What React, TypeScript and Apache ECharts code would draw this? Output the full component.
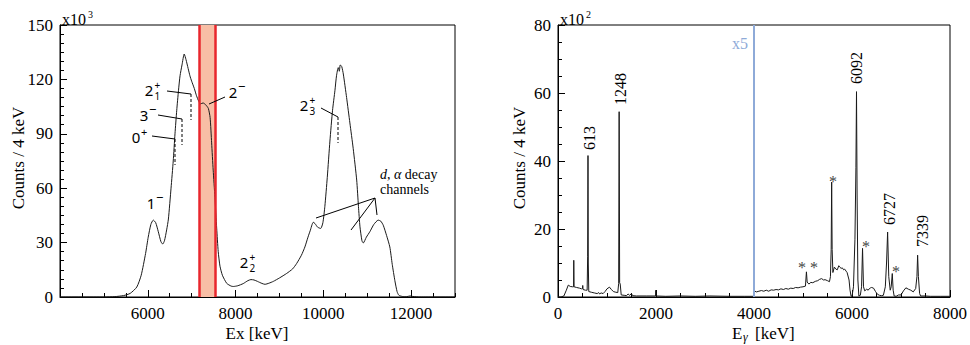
import React, { useEffect, useRef } from "react";
import * as echarts from "echarts";

// ---------- Left panel: excitation-energy spectrum (counts x10^3 per 4 keV) ----------
const exKeV = [
  4000, 5000, 5250, 5450, 5600, 5750, 5850, 5950, 6010, 6070, 6125, 6180, 6240, 6300, 6340, 6380,
  6430, 6470, 6530, 6580, 6620, 6660, 6700, 6735, 6780, 6830, 6870, 6920, 6960, 7000, 7060, 7110,
  7160, 7200, 7260, 7320, 7380, 7420, 7455, 7490, 7530, 7570, 7605, 7645, 7700, 7800, 7900, 7950,
  8050, 8175, 8280, 8350, 8420, 8500, 8600, 8670, 8760, 8860, 9000, 9165, 9300, 9390, 9500, 9580,
  9650, 9700, 9770, 9810, 9870, 9940, 9990, 10035, 10090, 10150, 10210, 10265, 10300, 10340, 10365,
  10385, 10420, 10455, 10530, 10605, 10680, 10760, 10800, 10835, 10880, 10910, 10980, 11060, 11150,
  11250, 11310, 11365, 11440, 11515, 11570, 11630, 11680, 11720, 11800, 11900, 11980, 12040, 12200,
  13000,
];
const exCounts = [
  0, 0, 0.2, 0.8, 2, 5.5, 12, 24, 33, 40, 42.4, 41, 36, 30.5, 29.2, 31,
  37, 43, 60, 75, 90, 103, 114, 122, 128, 134, 131, 126, 122, 119, 115, 111,
  108, 106.5, 107, 106, 104, 99, 85, 70, 55, 38, 25, 17, 12, 7.5, 6, 5.8,
  6.2, 7.4, 9, 9.6, 9.4, 8.6, 7.5, 7, 7.6, 8.6, 10.5, 13, 15.5, 18.4, 23, 27.6,
  33, 36.5, 41.2, 40.5, 38.5, 37.8, 41, 50, 66, 86, 103, 114, 122, 126.5, 124.5,
  128, 127, 123, 110, 96, 82, 64.5, 50, 38.7, 31, 29.8, 33, 36, 40,
  42.4, 41.8, 39.6, 34, 27.6, 18, 9, 3, 1, 0.3, 0.2, 0.6, 0.3, 0,
  0,
];
const exBand = [7170, 7530];

// ---------- Right panel: gamma-ray spectrum (counts x10^2 per 4 keV; x5 above 4000 keV) ----------
const egKeV = [
  0, 60, 120, 170, 210, 250, 300, 318, 322, 328, 380, 440, 480, 500, 505, 512, 560, 595, 605, 612,
  618, 628, 680, 740, 800, 830, 850, 880, 920, 960, 1000, 1050, 1090, 1130, 1180, 1220, 1238, 1248,
  1258, 1270, 1290, 1350, 1400, 1430, 1460, 1500, 1520, 1600, 1800, 1990, 1996, 2002, 2200, 2500,
  2800, 3100, 3500, 3800, 3998,
  4002, 4050, 4100, 4150, 4200, 4250, 4300, 4350, 4400, 4450, 4500, 4550, 4600, 4650, 4700, 4750,
  4800, 4850, 4900, 4950, 5000, 5050, 5070, 5085, 5120, 5160, 5200, 5250, 5300, 5340, 5380, 5420,
  5450, 5500, 5540, 5560, 5575, 5585, 5595, 5610, 5640, 5670, 5700, 5730, 5750, 5780, 5800, 5830,
  5850, 5880, 5900, 5940, 5960, 5980, 6000, 6030, 6060, 6080, 6092, 6104, 6120, 6140, 6170, 6195,
  6215, 6235, 6260, 6300, 6330, 6350, 6380, 6400, 6440, 6480, 6520, 6560, 6600, 6640, 6680, 6705,
  6727, 6750, 6780, 6800, 6822, 6840, 6860, 6900, 6950, 7000, 7050, 7100, 7150, 7200, 7250, 7300,
  7325, 7339, 7355, 7380, 7400, 7500, 7600, 7800, 8000,
];
const egCounts = [
  0, 0, 0.3, 2, 3.5, 3.1, 3.0, 3.0, 10.8, 3.0, 2.8, 2.6, 2.4, 2.5, 3.4, 2.2, 2.0, 2.0, 12, 41.6,
  10, 1.6, 1.4, 1.2, 1.0, 1.3, 0.9, 1.2, 1.0, 1.6, 2.4, 2.9, 2.2, 1.6, 1.4, 1.3, 4, 54.5,
  4.2, 3.8, 0.6, 0.5, 0.4, 0.9, 0.5, 1.0, 0.4, 0.3, 0.3, 0.3, 2, 0.3, 0.2, 0.3,
  0.2, 0.3, 0.2, 0.2, 0.2,
  1.8, 1.5, 1.7, 1.9, 1.7, 2.0, 1.7, 2.1, 2.0, 2.2, 2.1, 2.4, 2.2, 2.5, 2.3, 2.6,
  2.5, 2.8, 2.7, 2.9, 3.0, 3.2, 7.4, 4.4, 3.8, 4.3, 4.2, 4.6, 4.8, 5.2, 5.4, 5.0,
  5.1, 4.8, 4.5, 6, 14, 33.8, 14, 7.2, 8.8, 8.2, 8.0, 9.2, 8.8, 8.4, 8.6, 8.0,
  8.2, 7.6, 7.2, 5.0, 2.0, 0.3, 0.2, 3, 17, 38, 60.4, 30, 5, 0.3, 0.5, 3,
  14.3, 3, 1.8, 2.3, 2.0, 2.4, 2.7, 2.8, 2.6, 1.6, 0.8, 0.5, 0.4, 0.5, 3, 10,
  19.1, 6, 2, 3, 6.9, 2, 0.3, 0.2, 0.6, 0.6, 1.8, 2.7, 2.3, 2.0, 1.5, 2.5,
  6, 12.3, 6, 1.0, 0.3, 0.3, 0.2, 0.2, 0.2,
];
const egMarker = 4000;

const exTickLabels = ["6000", "8000", "10000", "12000"];
const egPeakLabels = ["613", "1248", "6092", "6727", "7339"];

const SERIF = "Liberation Serif";
const SANS = "Noto Sans";

function txt(x: number, y: number, text: string, o: any = {}) {
  return {
    type: "text",
    x,
    y,
    rotation: o.rotation || 0,
    z: 50,
    style: {
      text,
      fontSize: o.fontSize || 17,
      fontFamily: o.fontFamily || SERIF,
      fontStyle: o.fontStyle || "normal",
      fill: o.fill || "#000",
      align: o.align || "center",
      verticalAlign: o.verticalAlign || "middle",
      lineHeight: o.lineHeight,
      rich: o.rich,
    },
  };
}
function ln(x1: number, y1: number, x2: number, y2: number, dashed = false) {
  return {
    type: "line",
    z: 50,
    shape: { x1, y1, x2, y2 },
    style: { stroke: "#000", lineWidth: 1, lineDash: dashed ? [3, 2] : null },
  };
}
// state label: base digit, superscript, optional subscript (stacked in one text)
function stateLabel(x: number, y: number, base: string, sup: string, sub?: string) {
  const els: any[] = [txt(x, y, base, { fontSize: 15, fontFamily: SANS })];
  if (sub) {
    els.push(txt(x + 5.5, y, sup + "\n" + sub, { fontSize: 10, fontFamily: SANS, align: "left", lineHeight: 11 }));
  } else {
    const supSize = sup === "−" ? 13 : 11;
    els.push(txt(x + 5, y - 6, sup, { fontSize: supSize, fontFamily: SANS, align: "left" }));
  }
  return els;
}

export default function App() {
  const ref = useRef<HTMLDivElement>(null);
  useEffect(() => {
    if (!ref.current) return;
    const chart = echarts.init(ref.current, null, { renderer: "svg" });
    const exData = exKeV.map((e, i) => [e, exCounts[i]]);
    const egData = egKeV.map((e, i) => [e, egCounts[i]]);
    const axisLabel = { fontFamily: SERIF, fontSize: 17, color: "#000" };
    const axisLine = { show: true, lineStyle: { color: "#000", width: 1 } };

    const graphic: any[] = [
      // axis names
      txt(18, 158, "Counts / 4 keV", { rotation: Math.PI / 2 }),
      txt(519, 158, "Counts / 4 keV", { rotation: Math.PI / 2 }),
      txt(257, 333, "Ex [keV]"),
      txt(732, 333, "E", { align: "left" }),
      txt(743, 337, "γ", { align: "left", fontSize: 12, fontStyle: "italic" }),
      txt(755, 333, "[keV]", { align: "left" }),
      // exponent labels
      txt(62, 19, "x10", { align: "left", fontSize: 16 }),
      txt(88, 14, "3", { align: "left", fontSize: 10 }),
      txt(560, 19, "x10", { align: "left", fontSize: 16 }),
      txt(586, 14, "2", { align: "left", fontSize: 10 }),
      // left annotations
      ...stateLabel(149, 90, "2", "+", "1"),
      ln(167, 91, 191, 94),
      ln(191, 94, 191, 120, true),
      ...stateLabel(144, 115, "3", "−"),
      ln(158, 115, 182, 119),
      ln(182, 119, 182, 145, true),
      ...stateLabel(136, 137, "0", "+"),
      ln(152, 136, 175, 139),
      ln(175, 139, 175, 165, true),
      ...stateLabel(233, 92, "2", "−"),
      ln(209, 104, 225, 97),
      ...stateLabel(151, 203, "1", "−"),
      ...stateLabel(244, 262, "2", "+", "2"),
      ...stateLabel(304, 105, "2", "+", "3"),
      ln(321, 108, 338, 117),
      ln(338, 117, 338, 143, true),
      txt(380, 174, "{i|d}, {i|α} decay", {
        align: "left",
        fontSize: 14,
        rich: { i: { fontStyle: "italic", fontSize: 14, fontFamily: SERIF } },
      }),
      txt(380, 189, "channels", { align: "left", fontSize: 14 }),
      ln(316, 218, 375, 198),
      ln(351, 230, 375, 198),
      ln(375, 198, 377, 215),
      // right annotations
      txt(589, 138, egPeakLabels[0], { rotation: Math.PI / 2, fontSize: 16 }),
      txt(620, 89, egPeakLabels[1], { rotation: Math.PI / 2, fontSize: 16 }),
      txt(856, 68, egPeakLabels[2], { rotation: Math.PI / 2, fontSize: 16 }),
      txt(889, 209, egPeakLabels[3], { rotation: Math.PI / 2, fontSize: 16 }),
      txt(922, 231, egPeakLabels[4], { rotation: Math.PI / 2, fontSize: 16 }),
      txt(740, 43, "x5", { fontSize: 16, fill: "#8eaad8" }),
      txt(833, 181, "*", { fontSize: 16, fill: "#444" }),
      txt(866, 246, "*", { fontSize: 16, fill: "#444" }),
      txt(896, 271, "*", { fontSize: 16, fill: "#444" }),
      txt(808, 267, "* *", { fontSize: 16, fill: "#444" }),
    ];

    chart.setOption({
      animation: false,
      backgroundColor: "#fff",
      textStyle: { fontFamily: SERIF },
      grid: [
        { left: 60, top: 25, width: 395, height: 272, show: true, borderColor: "#000", borderWidth: 1, backgroundColor: "transparent" },
        { left: 558, top: 25, width: 394, height: 272, show: true, borderColor: "#000", borderWidth: 1, backgroundColor: "transparent" },
      ],
      xAxis: [
        {
          gridIndex: 0, type: "value", position: "bottom", min: 4000, max: 13000, interval: 2000,
          axisLine, axisTick: { show: true, inside: true, length: 7, lineStyle: { color: "#000" } },
          axisLabel: {
            ...axisLabel, margin: 8, showMinLabel: false, showMaxLabel: false,
            formatter: (v: number) => (exTickLabels.includes(String(v)) ? String(v) : ""),
          },
          splitLine: { show: false },
        },
        {
          gridIndex: 0, type: "value", position: "bottom", min: 4000, max: 13000, interval: 500,
          axisLine: { show: false }, axisTick: { show: true, inside: true, length: 4, lineStyle: { color: "#000" } },
          axisLabel: { show: false }, splitLine: { show: false },
        },
        {
          gridIndex: 1, type: "value", position: "bottom", min: 0, max: 8000, interval: 2000,
          axisLine, axisTick: { show: true, inside: true, length: 7, lineStyle: { color: "#000" } },
          minorTick: { show: true, splitNumber: 4, length: 4, lineStyle: { color: "#000" } },
          axisLabel: { ...axisLabel, margin: 8, formatter: (v: number) => String(v) },
          splitLine: { show: false }, minorSplitLine: { show: false },
        },
      ],
      yAxis: [
        {
          gridIndex: 0, type: "value", min: 0, max: 150, interval: 30,
          axisLine, axisTick: { show: true, inside: true, length: 7, lineStyle: { color: "#000" } },
          minorTick: { show: true, splitNumber: 6, length: 4, lineStyle: { color: "#000" } },
          axisLabel: { ...axisLabel, margin: 7, formatter: (v: number) => String(v) },
          splitLine: { show: false }, minorSplitLine: { show: false },
        },
        {
          gridIndex: 1, type: "value", min: 0, max: 80, interval: 20,
          axisLine, axisTick: { show: true, inside: true, length: 7, lineStyle: { color: "#000" } },
          minorTick: { show: true, splitNumber: 4, length: 4, lineStyle: { color: "#000" } },
          axisLabel: { ...axisLabel, margin: 7, formatter: (v: number) => String(v) },
          splitLine: { show: false }, minorSplitLine: { show: false },
        },
      ],
      series: [
        {
          type: "line", xAxisIndex: 0, yAxisIndex: 0, data: exData, showSymbol: false, smooth: 0.2,
          lineStyle: { color: "#1a1a1a", width: 1 },
          markArea: {
            silent: true,
            itemStyle: { color: "#f8bea5", opacity: 1 },
            data: [[{ xAxis: exBand[0] }, { xAxis: exBand[1] }]],
          },
          markLine: {
            silent: true, symbol: ["none", "none"], label: { show: false },
            lineStyle: { color: "#e8262d", width: 2.5, type: "solid" },
            data: [{ xAxis: exBand[0] }, { xAxis: exBand[1] }],
          },
        },
        {
          type: "line", xAxisIndex: 2, yAxisIndex: 1, data: egData, showSymbol: false,
          lineStyle: { color: "#1a1a1a", width: 1 },
          markLine: {
            silent: true, symbol: ["none", "none"], label: { show: false },
            lineStyle: { color: "#8eaad8", width: 2, type: "solid" },
            data: [{ xAxis: egMarker }],
          },
        },
      ],
      graphic,
    });
    return () => chart.dispose();
  }, []);
  return (
    <div
      ref={ref}
      style={{ position: "absolute", left: 0, top: 0, width: 970, height: 345, background: "#fff" }}
    />
  );
}
